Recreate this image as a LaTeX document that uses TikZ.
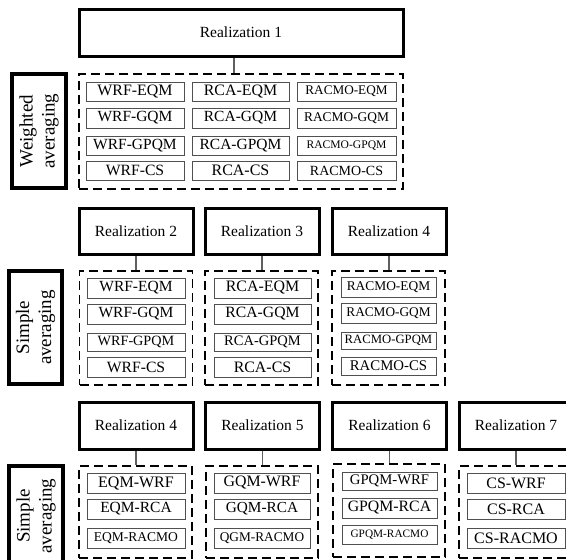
\documentclass[tikz,border=0pt]{standalone}
\usepackage{fontspec}
\setmainfont{Liberation Serif}
\usepackage{xcolor}
\definecolor{boxgray}{RGB}{80,80,80}
\definecolor{linkgray}{RGB}{95,95,95}
\usepackage{tikz}
\newcommand{\fsz}[1]{\fontsize{#1}{#1}\selectfont}
\tikzset{
  realbox/.style={draw, line width=3pt, minimum width=114pt, minimum height=46pt, inner sep=0pt, font=\fsz{15.5}},
  groupbox/.style={draw, dash pattern=on 9pt off 5pt, line width=1.6pt, inner sep=0pt},
  pairbox/.style={draw=boxgray, line width=1pt, minimum width=98pt, minimum height=20pt, inner sep=0pt, font=\fsz{15.5}},
  sidebox/.style={draw, line width=3.5pt, rotate=90, align=center, inner sep=0pt, font=\fontsize{19}{22}\selectfont},
  link/.style={linkgray, line width=1.2pt}
}

\begin{document}
\begin{tikzpicture}[x=1pt, y=-1pt]
  \useasboundingbox (0,0) rectangle (566,560);
  \clip (0,0) rectangle (566,560);
  % weighted averaging, all twelve pairs
  \node[realbox, minimum width=324pt, minimum height=47pt] (real1) at (241,32.5) {Realization 1};
  \node[groupbox, minimum width=324pt, minimum height=115pt] (grp1) at (241,131.5) {};
  \node[sidebox, minimum width=114pt, minimum height=54pt] (wavg) at (39,131) {Weighted\\averaging};
  \coordinate (tap1) at (234,0);
  \draw[link] (real1.south -| tap1) -- (grp1.north -| tap1);
  \node[pairbox, minimum height=19pt, font=\fsz{15.9}] (we1) at (135,91.5) {WRF-EQM};
  \node[pairbox, minimum width=97pt, minimum height=19pt, font=\fsz{15.9}] (re1) at (240.5,91.5) {RCA-EQM};
  \node[pairbox, minimum width=99pt, minimum height=19pt, font=\fsz{13.2}] (ae1) at (346.5,91.5) {RACMO-EQM};
  \node[pairbox] (wg1) at (135,118) {WRF-GQM};
  \node[pairbox, minimum width=97pt] (rg1) at (240.5,118) {RCA-GQM};
  \node[pairbox, minimum width=99pt, font=\fsz{13.4}] (ag1) at (346.5,118) {RACMO-GQM};
  \node[pairbox, minimum height=19pt] (wp1) at (135,145.5) {WRF-GPQM};
  \node[pairbox, minimum width=97pt, minimum height=19pt] (rp1) at (240.5,145.5) {RCA-GPQM};
  \node[pairbox, minimum width=99pt, minimum height=19pt, font=\fsz{11.6}] (ap1) at (346.5,145.5) {RACMO-GPQM};
  \node[pairbox, minimum height=19pt, font=\fsz{15.7}] (wc1) at (135,170.5) {WRF-CS};
  \node[pairbox, minimum width=97pt, minimum height=19pt, font=\fsz{16}] (rc1) at (240.5,170.5) {RCA-CS};
  \node[pairbox, minimum width=99pt, minimum height=19pt, font=\fsz{14}] (ac1) at (346.5,170.5) {RACMO-CS};

  % simple averaging per model
  \node[realbox] (real2) at (136,231.5) {Realization 2};
  \node[realbox] (real3) at (262,231.5) {Realization 3};
  \node[realbox] (real4) at (389,231.5) {Realization 4};
  \node[groupbox, minimum width=113pt, minimum height=114pt] (grp2) at (136,328) {};
  \node[groupbox, minimum width=113pt, minimum height=114pt] (grp3) at (261.5,328) {};
  \node[groupbox, minimum width=113pt, minimum height=114pt] (grp4) at (388.5,328) {};
  \node[sidebox, minimum width=113pt, minimum height=53pt] (savg1) at (35.5,327.5) {Simple\\averaging};
  \foreach \r/\g in {real2/grp2, real3/grp3, real4/grp4}
    \draw[link] (\r.south) -- (\r.south |- \g.north);
  \node[pairbox] (we2) at (136,288) {WRF-EQM};
  \node[pairbox] (wg2) at (136,314) {WRF-GQM};
  \node[pairbox, minimum height=18pt, font=\fsz{14.2}] (wp2) at (136,342) {WRF-GPQM};
  \node[pairbox, font=\fsz{15.7}] (wc2) at (136,367) {WRF-CS};
  \node[pairbox, minimum width=97pt, font=\fsz{15.9}] (re2) at (262.5,288) {RCA-EQM};
  \node[pairbox, minimum width=97pt, font=\fsz{15.7}] (rg2) at (262.5,314) {RCA-GQM};
  \node[pairbox, minimum width=97pt, minimum height=18pt, font=\fsz{14.5}] (rp2) at (262.5,342) {RCA-GPQM};
  \node[pairbox, minimum width=97pt, font=\fsz{15.9}] (rc2) at (262.5,367) {RCA-CS};
  \node[pairbox, minimum width=95pt, font=\fsz{13.4}] (ae2) at (388.5,287) {RACMO-EQM};
  \node[pairbox, minimum width=95pt, font=\fsz{13.3}] (ag2) at (388.5,313) {RACMO-GQM};
  \node[pairbox, minimum width=95pt, minimum height=17pt, font=\fsz{12.7}] (ap2) at (388.5,340.5) {RACMO-GPQM};
  \node[pairbox, minimum width=95pt, minimum height=18pt, font=\fsz{14.8}] (ac2) at (388.5,366) {RACMO-CS};

  % simple averaging per method
  \node[realbox, minimum height=47pt] (real5) at (136,425.5) {Realization 4};
  \node[realbox, minimum height=47pt] (real6) at (262.5,425.5) {Realization 5};
  \node[realbox, minimum height=47pt] (real7) at (389.5,425.5) {Realization 6};
  \node[realbox, minimum height=47pt] (real8) at (516,425.5) {Realization 7};
  \node[groupbox, minimum width=113pt, minimum height=92pt] (grp5) at (135.5,512) {};
  \node[groupbox, minimum width=112pt, minimum height=92pt] (grp6) at (262,512) {};
  \node[groupbox, minimum width=112pt, minimum height=93pt] (grp7) at (389,510.5) {};
  \node[groupbox, minimum width=113pt, minimum height=92pt] (grp8) at (515.5,512) {};
  \node[sidebox, minimum width=100pt, minimum height=54pt] (savg2) at (36,516) {Simple\\averaging};
  \foreach \r/\g in {real5/grp5, real6/grp6, real7/grp7, real8/grp8}
    \draw[link] (\r.south) -- (\r.south |- \g.north);
  \node[pairbox, font=\fsz{16}] (ew3) at (136,483) {EQM-WRF};
  \node[pairbox] (er3) at (136,509) {EQM-RCA};
  \node[pairbox, font=\fsz{13.5}] (ea3) at (136,538) {EQM-RACMO};
  \node[pairbox, minimum width=96pt, font=\fsz{15.9}] (gw3) at (262,483) {GQM-WRF};
  \node[pairbox, minimum width=96pt, font=\fsz{15.3}] (gr3) at (262,509) {GQM-RCA};
  \node[pairbox, minimum width=96pt, font=\fsz{13.3}] (ga3) at (262,538) {QGM-RACMO};
  \node[pairbox, minimum width=95pt, minimum height=18pt, font=\fsz{14.7}] (pw3) at (389.5,481) {GPQM-WRF};
  \node[pairbox, minimum width=95pt, font=\fsz{15.8}] (pr3) at (389.5,508) {GPQM-RCA};
  \node[pairbox, minimum width=95pt, minimum height=19pt, font=\fsz{11.3}] (pa3) at (389.5,534.5) {GPQM-RACMO};
  \node[pairbox, font=\fsz{15.9}] (cw3) at (516,483) {CS-WRF};
  \node[pairbox, font=\fsz{16}] (cr3) at (516,509) {CS-RCA};
  \node[pairbox, font=\fsz{16}] (ca3) at (516,538) {CS-RACMO};
\end{tikzpicture}
\end{document}
